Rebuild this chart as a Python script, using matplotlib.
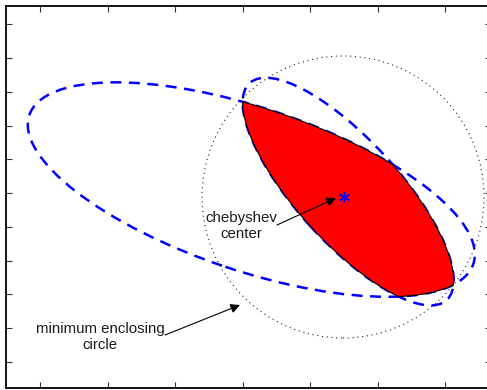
import numpy as np
import matplotlib
matplotlib.use("Agg")
import matplotlib.pyplot as plt
from matplotlib.patches import Ellipse, Circle, Polygon

# two ellipses: center, semi-axes (major, minor), angle of major axis (deg)
ell_centers = [(0.130, 0.051), (1.565, 0.021)]
ell_axes = [(3.469, 1.207), (2.171, 0.759)]
ell_angles = [-18.52, -47.78]

# chebyshev center and minimum enclosing circle
cheb_center = (1.504, -0.059)
circ_center = (1.489, -0.059)
circ_radius = 2.089

labels = ["chebyshev\ncenter", "minimum enclosing\ncircle"]
label_pos = [(-0.022, -0.49), (-2.11, -2.133)]
arrow_tail = [(0.511, -0.474), (-1.148, -2.104)]
arrow_head = [(1.385, -0.074), (-0.037, -1.659)]

xticks = [-3, -2, -1, 0, 1, 2, 3]
yticks = [-2.5, -2, -1.5, -1, -0.5, 0, 0.5, 1, 1.5, 2, 2.5]


def ray_dist(p, u, c, ax_len, ang):
    # distance along ray p + t*u to the boundary of the ellipse
    th = np.radians(ang)
    R = np.array([[np.cos(th), np.sin(th)], [-np.sin(th), np.cos(th)]])
    q = R @ (np.asarray(p) - np.asarray(c))
    v = R @ u
    a, b = ax_len
    A = (v[0] / a) ** 2 + (v[1] / b) ** 2
    Bq = 2 * (q[0] * v[0] / a ** 2 + q[1] * v[1] / b ** 2)
    C = (q[0] / a) ** 2 + (q[1] / b) ** 2 - 1
    return (-Bq + np.sqrt(Bq * Bq - 4 * A * C)) / (2 * A)


# boundary of the intersection, seen from the chebyshev center
ts = np.linspace(0, 2 * np.pi, 720, endpoint=False)
pts = []
for t in ts:
    u = np.array([np.cos(t), np.sin(t)])
    r = min(ray_dist(cheb_center, u, ell_centers[i], ell_axes[i], ell_angles[i]) for i in range(2))
    pts.append(np.array(cheb_center) + r * u)
pts = np.array(pts)

plt.rcParams['font.family'] = ['Liberation Sans', 'DejaVu Sans']

fig = plt.figure(figsize=(4.87, 3.9), dpi=100)
ax = fig.add_axes([6 / 487, 2 / 390, 485 / 487, 382.5 / 390])

for c, a, ang in zip(ell_centers, ell_axes, ell_angles):
    ax.add_patch(Ellipse(c, 2 * a[0], 2 * a[1], angle=ang, fill=False, color='#0000ff',
                         lw=1.8, linestyle=(0, (4.4, 3.0)), zorder=2))

ax.add_patch(Polygon(pts, closed=True, facecolor='#ff0000', edgecolor='k', lw=0.8, zorder=3))
ax.add_patch(Circle(circ_center, circ_radius, fill=False, color='#222222', lw=0.8,
                    linestyle=(0, (1, 3.3)), zorder=4))
ax.plot(cheb_center[0], cheb_center[1], marker=(6, 2, 0), color='#0000ff', ms=8, mew=1.0, zorder=5)

for txt, pos in zip(labels, label_pos):
    ax.text(pos[0], pos[1], txt, ha='center', va='center', fontsize=10.8,
            linespacing=1.15, color='#1a1a1a', zorder=6)
for tail, head in zip(arrow_tail, arrow_head):
    ax.annotate('', xy=head, xytext=tail,
                arrowprops=dict(arrowstyle='-|>', color='k', lw=0.8, mutation_scale=14,
                                shrinkA=0, shrinkB=0), zorder=6)

ax.set_xlim(-3.504, 3.681)
ax.set_ylim(-2.889, 2.778)
ax.set_xticks(xticks)
ax.set_yticks(yticks)
ax.tick_params(direction='in', length=4, width=0.8, top=True, right=True,
               labelbottom=False, labelleft=False, color='#333333')
for s in ax.spines.values():
    s.set_linewidth(1.3)
ax.spines['right'].set_visible(False)

fig.savefig("out.png", dpi=100)
